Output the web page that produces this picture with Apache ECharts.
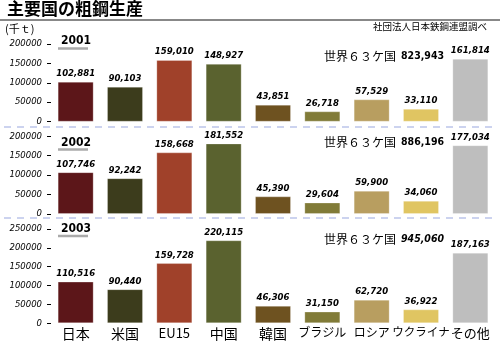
<!DOCTYPE html>
<html><head><meta charset="utf-8">
<script src="https://cdn.jsdelivr.net/npm/echarts@6/dist/echarts.min.js"></script>
<style>html,body{margin:0;padding:0;background:#fff}#c{width:500px;height:345px}</style>
</head><body><div id="c"></div>
<script>
// ---- data ----
const categories = ['日本', '米国', 'EU15', '中国', '韓国', 'ブラジル', 'ロシア', 'ウクライナ', 'その他'];
const years = ['2001', '2002', '2003'];
const values2001 = [102881, 90103, 159010, 148927, 43851, 26718, 57529, 33110, 161814];
const values2002 = [107746, 92242, 158668, 181552, 45390, 29604, 59900, 34060, 177034];
const values2003 = [110516, 90440, 159728, 220115, 46306, 31150, 62720, 36922, 187163];
const worldTotals = [823943, 886196, 945060];
const yMax = [200000, 200000, 250000];
const yInterval = 50000;
const titleText = '主要国の粗鋼生産';
const unitText = '(千ｔ)';
const sourceText = '社団法人日本鉄鋼連盟調べ';
const worldLabel = '世界６３ケ国';

// ---- styles ----
const barColors = ['#5c1619', '#3c3c1c', '#a0412a', '#5a622f', '#6e5220', '#817b38', '#b89e60', '#e0c562', '#bebebe'];
const narrow = "'Liberation Sans Narrow','DejaVu Sans Condensed',sans-serif";
const cjk = "'Noto Sans CJK JP',sans-serif";
const catFontSize = {'日本': 14, '米国': 14, 'EU15': 13, '中国': 14, '韓国': 14, 'ブラジル': 12, 'ロシア': 12, 'ウクライナ': 11.5, 'その他': 13};
const grids = [
  {left: 51, right: 5, top: 44, height: 77.7},
  {left: 51, right: 5, top: 136.3, height: 77.7},
  {left: 51, right: 5, top: 229, height: 94.3}
];
const yearTextTop = [35, 136.5, 223];
const yearLineY = [48.5, 149.5, 236];
const worldY = [56.5, 142.5, 239];
const sepY = [127, 218];

const allValues = [values2001, values2002, values2003];
const fmt = v => String(v).replace(/\B(?=(\d{3})+(?!\d))/g, ',');

const xAxes = grids.map((g, i) => ({
  type: 'category', gridIndex: i,
  data: categories.map(c => ({value: c, textStyle: {fontSize: catFontSize[c]}})),
  axisLine: {show: false}, axisTick: {show: false},
  axisLabel: {show: i === 2, interval: 0, color: '#000', fontFamily: cjk, margin: 3}
}));
const yAxes = grids.map((g, i) => ({
  type: 'value', gridIndex: i, min: 0, max: yMax[i], interval: yInterval,
  axisLine: {show: false},
  axisTick: {show: true, length: 4, lineStyle: {color: '#000', width: 1}},
  splitLine: {show: false},
  axisLabel: {color: '#000', fontStyle: 'italic', fontFamily: "'DejaVu Sans',sans-serif", fontSize: 8.5, margin: 9, formatter: v => String(v)}
}));
const series = allValues.map((vals, i) => ({
  type: 'bar', xAxisIndex: i, yAxisIndex: i, barWidth: 36,
  data: vals,
  itemStyle: {color: p => barColors[p.dataIndex], borderColor: 'rgba(255,255,255,0.25)', borderWidth: 1},
  label: {show: true, position: 'top', distance: 3, color: '#000', fontFamily: narrow, fontWeight: 'bold', fontStyle: 'italic', fontSize: 9.5, formatter: p => fmt(p.value)},
  silent: true, animation: false
}));

const graphic = [
  {type: 'text', x: 7, y: 0, style: {text: titleText, font: "bold 17px 'Noto Sans CJK JP',sans-serif", fill: '#000', verticalAlign: 'top'}},
  {type: 'line', shape: {x1: 0, y1: 20, x2: 500, y2: 20}, style: {stroke: '#888', lineWidth: 2}},
  {type: 'text', x: 5, y: 28.5, style: {text: unitText, font: "11px 'Noto Sans CJK JP',sans-serif", fill: '#000', verticalAlign: 'middle'}},
  {type: 'text', x: 487, y: 26.5, style: {text: sourceText, font: "9.5px 'Noto Sans CJK JP',sans-serif", fill: '#000', align: 'right', verticalAlign: 'middle'}}
];
years.forEach((yr, i) => {
  graphic.push({type: 'text', x: 61, y: yearTextTop[i], style: {text: yr, font: "bold 12px " + narrow, fill: '#000', verticalAlign: 'top'}});
  graphic.push({type: 'line', shape: {x1: 58, y1: yearLineY[i], x2: 88, y2: yearLineY[i]}, style: {stroke: '#aaa', lineWidth: 2.5}});
  graphic.push({type: 'text', x: 324, y: worldY[i], style: {
    text: '{a|' + worldLabel + '}{b|' + fmt(worldTotals[i]) + '}', verticalAlign: 'middle',
    rich: {
      a: {fontFamily: cjk, fontSize: 12, fill: '#000'},
      b: {fontFamily: narrow, fontSize: 10.5, fontWeight: 'bold', fontStyle: i === 2 ? 'italic' : 'normal', fill: '#000', padding: [0, 0, 0, 5]}
    }
  }});
});
sepY.forEach(y => {
  graphic.push({type: 'line', shape: {x1: 4, y1: y, x2: 492, y2: y}, style: {stroke: '#bcc5ea', lineWidth: 1.6, lineDash: [7, 6]}});
});

const chart = echarts.init(document.getElementById('c'), null, {renderer: 'canvas'});
chart.setOption({
  animation: false,
  grid: grids,
  xAxis: xAxes,
  yAxis: yAxes,
  series: series,
  graphic: graphic
});
</script></body></html>
